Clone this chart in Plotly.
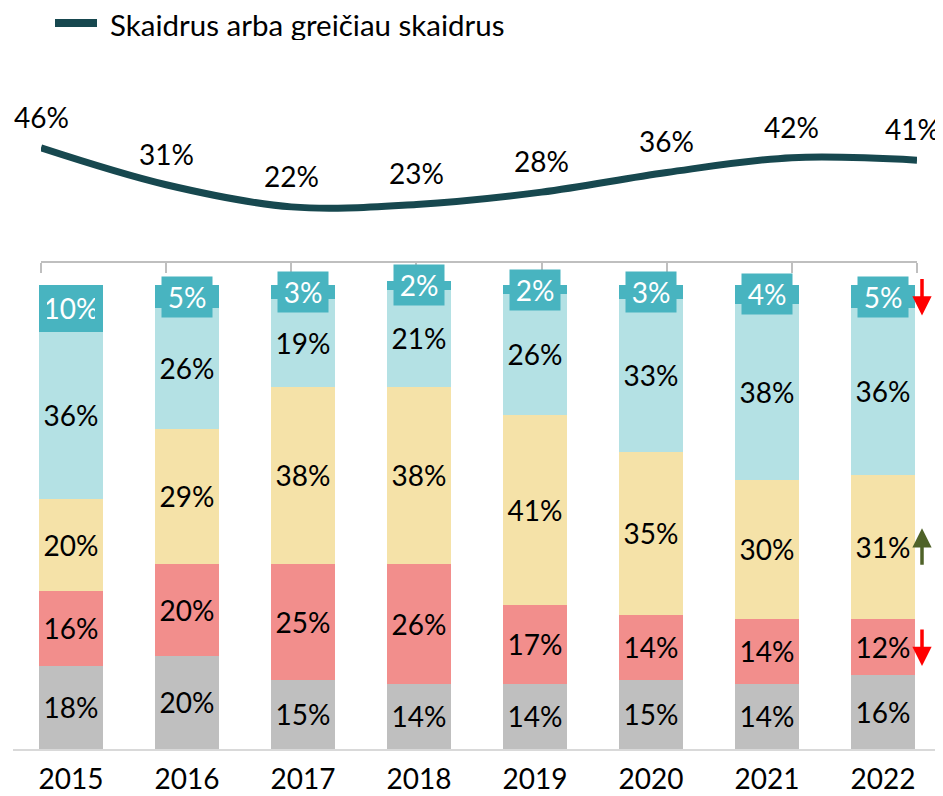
import plotly.graph_objects as go

years = ["2015", "2016", "2017", "2018", "2019", "2020", "2021", "2022"]
seg_gray = [18, 20, 15, 14, 14, 15, 14, 16]
seg_red = [16, 20, 25, 26, 17, 14, 14, 12]
seg_yellow = [20, 29, 38, 38, 41, 35, 30, 31]
seg_lblue = [36, 26, 19, 21, 26, 33, 38, 36]
seg_teal = [10, 5, 3, 2, 2, 3, 4, 5]
line_name = "Skaidrus arba greičiau skaidrus"
line_vals = [46, 31, 22, 23, 28, 36, 42, 41]

# arrows on the last year: (segment index, direction, colour)
arrow_specs = [(4, "down", "#FF0000"), (2, "up", "#4F6228"), (1, "down", "#FF0000")]

# page body has an 8px margin: figure pixel = screen pixel - 8
W, H = 935, 788
FONT = "Lato"
FS = 28

C_GRAY = "#BFBFBF"
C_RED = "#F28E8C"
C_YEL = "#F5E2A8"
C_LBLUE = "#B4E1E4"
C_TEAL = "#48B4C0"
C_LINE = "#17484F"

xs = list(range(len(years)))

series = [
    (seg_gray, C_GRAY, "black"),
    (seg_red, C_RED, "black"),
    (seg_yellow, C_YEL, "black"),
    (seg_lblue, C_LBLUE, "black"),
]

fig = go.Figure()
for vals, col, tcol in series:
    fig.add_trace(go.Bar(
        x=xs, y=vals, marker=dict(color=col, line=dict(width=0)),
        text=[f"{v}%" for v in vals], textposition="inside",
        insidetextanchor="middle", constraintext="none",
        textfont=dict(family=FONT, size=FS, color=tcol),
        width=0.552, showlegend=False, hoverinfo="skip",
        xaxis="x", yaxis="y"))
fig.add_trace(go.Bar(
    x=xs, y=seg_teal, marker=dict(color=C_TEAL, line=dict(width=0)),
    width=0.552, showlegend=False, hoverinfo="skip", xaxis="x", yaxis="y"))

fig.add_trace(go.Scatter(
    x=xs, y=line_vals, mode="lines", name=line_name, showlegend=False,
    line=dict(color=C_LINE, width=7, shape="spline", smoothing=1.0),
    xaxis="x2", yaxis="y2", hoverinfo="skip"))

annotations = []
# teal labels with background boxes
for i in xs:
    base = seg_gray[i] + seg_red[i] + seg_yellow[i] + seg_lblue[i]
    annotations.append(dict(
        x=i, y=base + seg_teal[i] / 2, xref="x", yref="y",
        text=f"{seg_teal[i]}%", showarrow=False, bgcolor=C_TEAL,
        width=48, height=38, font=dict(family=FONT, size=FS, color="white")))
# line labels (the last one is nudged inwards so it stays inside the chart)
for i, v in enumerate(line_vals):
    annotations.append(dict(
        x=i, y=v, xref="x2", yref="y2", text=f"{v}%", showarrow=False,
        yshift=31, xshift=(-5 if i == len(line_vals) - 1 else 0),
        font=dict(family=FONT, size=FS, color="black")))
# arrows
segs = [seg_gray, seg_red, seg_yellow, seg_lblue, seg_teal]
last = len(years) - 1
for idx, direction, col in arrow_specs:
    centre = sum(s[last] for s in segs[:idx]) + segs[idx][last] / 2
    sgn = 1 if direction == "down" else -1
    annotations.append(dict(x=last, y=centre, xref="x", yref="y",
                            xshift=39, yshift=-19 * sgn, ax=0, ay=-38 * sgn,
                            text="", showarrow=True, arrowhead=2, arrowsize=1.1,
                            arrowwidth=3.5, arrowcolor=col))

# legend (drawn manually)
LEG_Y = 16
annotations.append(dict(x=100 / W, y=1 - LEG_Y / H, xref="paper", yref="paper",
                        xanchor="left", yanchor="middle", text=line_name,
                        showarrow=False, height=32,
                        font=dict(family=FONT, size=29.5, color="black")))
shapes = [dict(type="line", xref="paper", yref="paper",
               x0=47 / W, x1=89 / W, y0=1 - (LEG_Y - 1) / H, y1=1 - (LEG_Y - 1) / H,
               line=dict(color=C_LINE, width=8))]

PXU = 4.64  # pixels per percent for bars
bar_bottom = 741
bar_top_px = bar_bottom - 105 * PXU
line_zero = 253
PXL = 2.46

fig.update_layout(
    width=W, height=H, margin=dict(l=0, r=0, t=0, b=0),
    paper_bgcolor="white", plot_bgcolor="white",
    barmode="stack", bargap=0,
    font=dict(family=FONT, size=FS, color="black"),
    xaxis=dict(domain=[5 / W, 933 / W], range=[-0.5, 7.5],
               tickvals=xs, ticktext=years,
               showline=True, linecolor="#D9D9D9", linewidth=1.5,
               ticks="", showgrid=False, zeroline=False, ticklabelstandoff=5,
               tickfont=dict(family=FONT, size=FS, color="black"),
               anchor="y"),
    yaxis=dict(domain=[(H - bar_bottom) / H, (H - bar_top_px) / H],
               range=[0, 105], visible=False, showgrid=False),
    xaxis2=dict(domain=[33 / W, 909 / W], range=[0, 7], anchor="y2",
                showline=True, linecolor="#BFBFBF", linewidth=1.5,
                ticks="outside", ticklen=10, tickcolor="#BFBFBF", tickwidth=1.5,
                tickvals=xs, showticklabels=False, showgrid=False, zeroline=False),
    yaxis2=dict(domain=[(H - line_zero) / H, 1], range=[0, line_zero / PXL],
                visible=False, showgrid=False),
    showlegend=False,
    annotations=annotations,
    shapes=shapes,
)

fig.write_html("out.html")
